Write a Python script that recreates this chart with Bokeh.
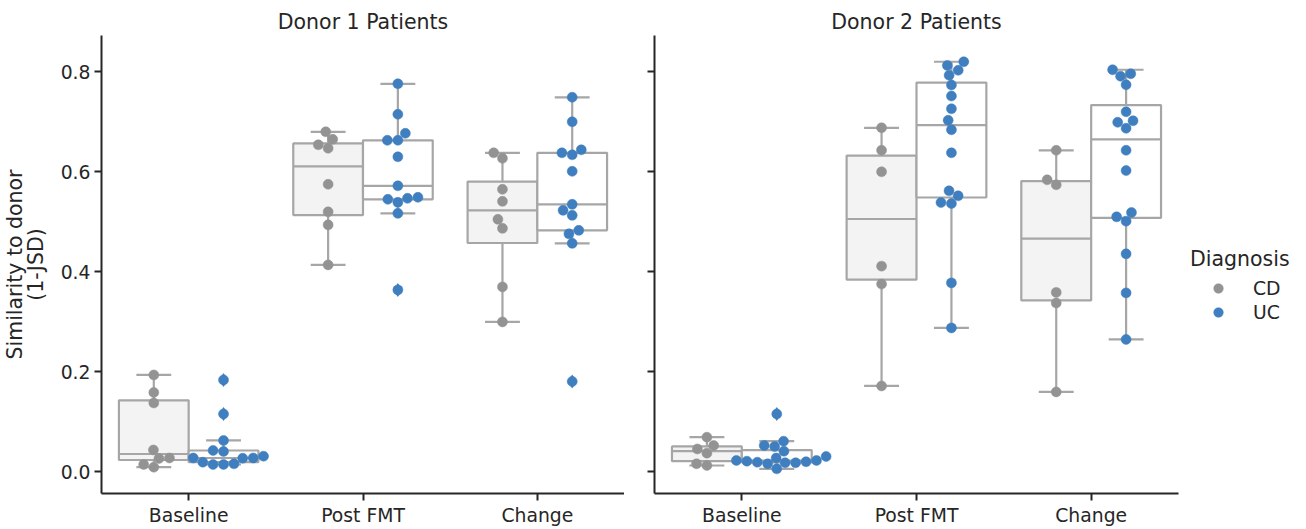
import numpy as np
from bokeh.plotting import figure
from bokeh.models import (Range1d, FixedTicker, PrintfTickFormatter, CustomJSTickFormatter,
                          Legend, LegendItem)
from bokeh.layouts import row
from bokeh.embed import file_html
from bokeh.resources import INLINE

categories = ["Baseline", "Post FMT", "Change"]
diagnoses = ["CD", "UC"]
panel_titles = ["Donor 1 Patients", "Donor 2 Patients"]

# Donor 1 patients
d1_cd_baseline = [0.194, 0.159, 0.138, 0.044, 0.028, 0.027, 0.015, 0.0096]
d1_uc_baseline = [0.184, 0.116, 0.063, 0.043, 0.041, 0.0316, 0.028, 0.0275, 0.028,
                  0.0196, 0.015, 0.015, 0.0163]
d1_cd_post = [0.680, 0.665, 0.654, 0.647, 0.575, 0.520, 0.494, 0.414]
d1_uc_post = [0.776, 0.715, 0.677, 0.663, 0.663, 0.630, 0.572, 0.545, 0.539, 0.547,
              0.549, 0.517, 0.364]
d1_cd_change = [0.638, 0.627, 0.565, 0.541, 0.505, 0.487, 0.370, 0.300]
d1_uc_change = [0.749, 0.700, 0.638, 0.634, 0.644, 0.601, 0.535, 0.523, 0.513, 0.483,
                0.476, 0.457, 0.181]

# Donor 2 patients
d2_cd_baseline = [0.0695, 0.0529, 0.046, 0.0376, 0.0163, 0.013]
d2_uc_baseline = [0.116, 0.0615, 0.0509, 0.0529, 0.0415, 0.031, 0.028, 0.0216, 0.0184,
                  0.0163, 0.023, 0.0184, 0.0196, 0.023, 0.0063, 0.0205]
d2_cd_post = [0.688, 0.643, 0.600, 0.4115, 0.3756, 0.172]
d2_uc_post = [0.820, 0.8127, 0.803, 0.793, 0.7735, 0.7515, 0.726, 0.703, 0.684, 0.638,
              0.562, 0.552, 0.5386, 0.5366, 0.378, 0.288]
d2_cd_change = [0.643, 0.584, 0.574, 0.359, 0.3377, 0.160]
d2_uc_change = [0.804, 0.791, 0.796, 0.774, 0.720, 0.699, 0.702, 0.687, 0.643, 0.6025,
                0.510, 0.5186, 0.5014, 0.436, 0.358, 0.265]

y_ticks = [0.0, 0.2, 0.4, 0.6, 0.8]

point_colors = {"CD": "#939393", "UC": "#3f7fbf"}
box_fill = {"CD": "#f2f3f2", "UC": "#ffffff"}
box_line = "#a6a6a6"
ink = "#262626"
FONT = "DejaVu Sans"

panels = [
    {"Baseline": {"CD": d1_cd_baseline, "UC": d1_uc_baseline},
     "Post FMT": {"CD": d1_cd_post, "UC": d1_uc_post},
     "Change": {"CD": d1_cd_change, "UC": d1_uc_change}},
    {"Baseline": {"CD": d2_cd_baseline, "UC": d2_uc_baseline},
     "Post FMT": {"CD": d2_cd_post, "UC": d2_uc_post},
     "Change": {"CD": d2_cd_change, "UC": d2_uc_change}},
]

Y0, Y1 = -0.043, 0.8725
FRAME_H = 458
FRAME_W = [523, 524]
DOT = 10.0


def box_stats(vals):
    v = np.sort(np.asarray(vals, float))
    q1, med, q3 = np.percentile(v, [25, 50, 75])
    iqr = q3 - q1
    lo, hi = q1 - 1.5 * iqr, q3 + 1.5 * iqr
    inside = v[(v >= lo) & (v <= hi)]
    fl = v[(v < lo) | (v > hi)]
    return q1, med, q3, inside.min(), inside.max(), fl


def swarm_offsets(vals, xscale, yscale, r):
    vals = np.asarray(vals, float)
    order = np.argsort(vals, kind="stable")
    placed = []
    offs = np.zeros(len(vals))
    for i in order:
        y = vals[i] * yscale
        neigh = []
        for px, py in reversed(placed):
            if abs(y - py) < 2 * r:
                neigh.append((px, py))
            else:
                break
        cands = [0.0]
        left_first = True
        for px, py in neigh:
            dy = y - py
            dx = np.sqrt(max((2 * r) ** 2 - dy ** 2, 0)) * 1.05
            pair = [px - dx, px + dx] if left_first else [px + dx, px - dx]
            cands.extend(pair)
            left_first = not left_first
        cands = sorted(cands, key=abs)
        chosen = cands[0]
        for c in cands:
            if all((c - px) ** 2 + (y - py) ** 2 >= (2 * r) ** 2 - 1e-6 for px, py in neigh):
                chosen = c
                break
        placed.append((chosen, y))
        offs[i] = chosen / xscale
    return offs


def make_panel(idx):
    data = panels[idx]
    first = idx == 0
    fw = FRAME_W[idx]
    left = 95 if first else 30
    right = 0 if first else 116
    p = figure(frame_width=fw, frame_height=FRAME_H,
               x_range=Range1d(-0.5, 2.5), y_range=Range1d(Y0, Y1),
               output_backend="svg", toolbar_location=None,
               min_border_left=left, min_border_right=right,
               min_border_top=35, min_border_bottom=31,
               title=panel_titles[idx])
    p.title.align = "center"
    p.title.text_font = FONT
    p.title.text_font_size = "20.5px"
    p.title.text_font_style = "normal"
    p.title.text_color = ink
    p.title.standoff = 3
    p.title.offset = 0
    p.outline_line_color = None
    p.grid.visible = False
    p.background_fill_color = "white"
    p.border_fill_color = "white"

    xscale = fw / 3.0
    yscale = FRAME_H / (Y1 - Y0)
    renderers = {}
    for ci, cat in enumerate(categories):
        for dg in diagnoses:
            vals = data[cat][dg]
            c = ci + (-0.2 if dg == "CD" else 0.2)
            q1, med, q3, wlo, whi, fl = box_stats(vals)
            p.segment(x0=[c, c], y0=[q3, q1], x1=[c, c], y1=[whi, wlo],
                      line_color=box_line, line_width=2.2)
            p.segment(x0=[c - 0.1, c - 0.1], y0=[whi, wlo], x1=[c + 0.1, c + 0.1],
                      y1=[whi, wlo], line_color=box_line, line_width=2.2)
            p.quad(left=[c - 0.2], right=[c + 0.2], bottom=[q1], top=[q3],
                   fill_color=box_fill[dg], line_color=box_line, line_width=2.2)
            p.segment(x0=[c - 0.2], y0=[med], x1=[c + 0.2], y1=[med],
                      line_color=box_line, line_width=2.2)
            if len(fl):
                p.scatter(x=[c] * len(fl), y=list(fl), marker="diamond", size=14,
                          fill_color=point_colors[dg], line_color=None)
    for ci, cat in enumerate(categories):
        for dg in diagnoses:
            vals = data[cat][dg]
            c = ci + (-0.2 if dg == "CD" else 0.2)
            offs = swarm_offsets(vals, xscale, yscale, DOT / 2.0)
            r = p.scatter(x=list(c + offs), y=list(vals), marker="circle", size=DOT,
                          fill_color=point_colors[dg], line_color=point_colors[dg],
                          line_width=0.5)
            renderers.setdefault(dg, r)

    p.xaxis.ticker = FixedTicker(ticks=[0, 1, 2])
    p.xaxis.major_label_overrides = {0: categories[0], 1: categories[1], 2: categories[2]}
    p.yaxis.ticker = FixedTicker(ticks=y_ticks)
    if first:
        p.yaxis.formatter = PrintfTickFormatter(format="%.1f")
        p.yaxis.axis_label = "Similarity to donor\n(1-JSD)"
        p.yaxis.axis_label_text_font = FONT
        p.yaxis.axis_label_text_font_size = "20.5px"
        p.yaxis.axis_label_text_font_style = "normal"
        p.yaxis.axis_label_text_color = ink
        p.yaxis.axis_label_text_line_height = 0.85
        p.yaxis.axis_label_standoff = 10
    else:
        p.yaxis.formatter = CustomJSTickFormatter(code="return ''")
    for ax in (p.xaxis, p.yaxis):
        ax.axis_line_color = ink
        ax.axis_line_width = 2
        ax.major_tick_line_color = ink
        ax.major_tick_line_width = 2
        ax.major_tick_out = 7
        ax.major_tick_in = 0
        ax.minor_tick_out = 0
        ax.minor_tick_in = 0
        ax.major_label_text_font = FONT
        ax.major_label_text_font_size = "18.8px"
        ax.major_label_text_color = ink
    p.xaxis.major_label_standoff = 4
    p.yaxis.major_label_standoff = 4 if first else 0

    if not first:
        legend = Legend(items=[LegendItem(label=dg, renderers=[renderers[dg]]) for dg in diagnoses],
                        location=(12, 169), title="Diagnosis")
        legend.title_text_font = FONT
        legend.title_text_font_size = "20.5px"
        legend.title_text_font_style = "normal"
        legend.title_text_color = ink
        legend.title_standoff = 5
        legend.label_text_font = FONT
        legend.label_text_font_size = "18.8px"
        legend.label_text_color = ink
        legend.glyph_width = 56
        legend.glyph_height = 24
        legend.label_height = 24
        legend.label_standoff = 7
        legend.spacing = 0
        legend.padding = 0
        legend.margin = 0
        legend.border_line_color = None
        legend.background_fill_alpha = 0
        p.add_layout(legend, "right")
    return p


p1 = make_panel(0)
p2 = make_panel(1)
layout = row(p1, p2)
open("out.html", "w").write(file_html(layout, INLINE))
